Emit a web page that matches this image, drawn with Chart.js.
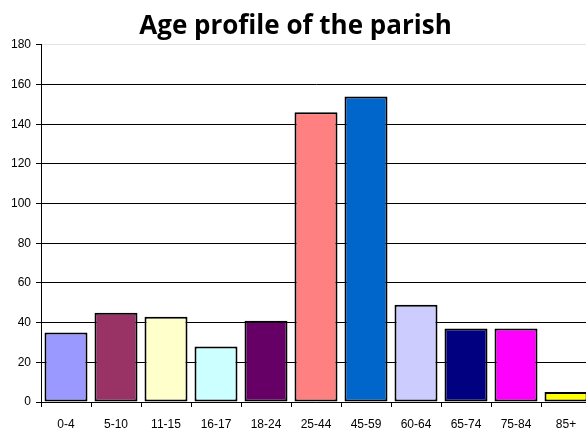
<!DOCTYPE html>
<html>
<head>
<meta charset="utf-8">
<script src="https://cdn.jsdelivr.net/npm/chart.js@4/dist/chart.umd.min.js"></script>
<style>
  html, body { margin: 0; padding: 0; overflow: hidden; background: #fff; }
  #wrap { width: 586px; height: 428px; overflow: hidden; }
</style>
</head>
<body>
<div id="wrap"><canvas id="ageChart" width="600" height="428"></canvas></div>
<script>
const ageGroups = ["0-4", "5-10", "11-15", "16-17", "18-24", "25-44", "45-59", "60-64", "65-74", "75-84", "85+"];
const people = [35, 45, 43, 28, 41, 146, 154, 49, 37, 37, 5];
const barColours = ["#9999FF", "#993366", "#FFFFCC", "#CCFFFF", "#660066", "#FF8080",
                    "#0066CC", "#CCCCFF", "#000080", "#FF00FF", "#FFFF00"];

const ctx = document.getElementById('ageChart');

new Chart(ctx, {
    type: 'bar',
    data: {
        labels: ageGroups,
        datasets: [{
            data: people,
            backgroundColor: barColours,
            borderColor: '#000',
            borderWidth: 2,
            borderSkipped: false,
            barPercentage: 0.86,
            categoryPercentage: 1
        }]
    },
    options: {
        responsive: false,
        animation: false,
        layout: { padding: { left: 0, right: 9, top: 0, bottom: 0 } },
        plugins: {
            legend: { display: false },
            tooltip: { enabled: false },
            title: {
                display: true,
                text: 'Age profile of the parish',
                color: '#000',
                font: { family: 'Open Sans', size: 26, weight: 'bold', lineHeight: 1.15 },
                padding: { top: 12, bottom: 3 }
            }
        },
        scales: {
            x: {
                afterFit: s => { s.height = 26; },
                border: { color: '#000', width: 1 },
                grid: { display: true, drawOnChartArea: false, offset: true, color: '#000', tickLength: 5 },
                ticks: { color: '#000', padding: 10, font: { family: 'Liberation Sans', size: 12 }, maxRotation: 0 }
            },
            y: {
                min: 0,
                max: 180,
                afterFit: s => { s.width = 41; },
                border: { color: '#000', width: 1 },
                grid: {
                    color: c => c.tick && c.tick.value === 180 ? '#e4e4e4' : '#000',
                    tickColor: '#000',
                    tickLength: 5
                },
                ticks: { stepSize: 20, color: '#000', padding: 5, font: { family: 'Liberation Sans', size: 12 } }
            }
        }
    }
});
</script>
</body>
</html>
